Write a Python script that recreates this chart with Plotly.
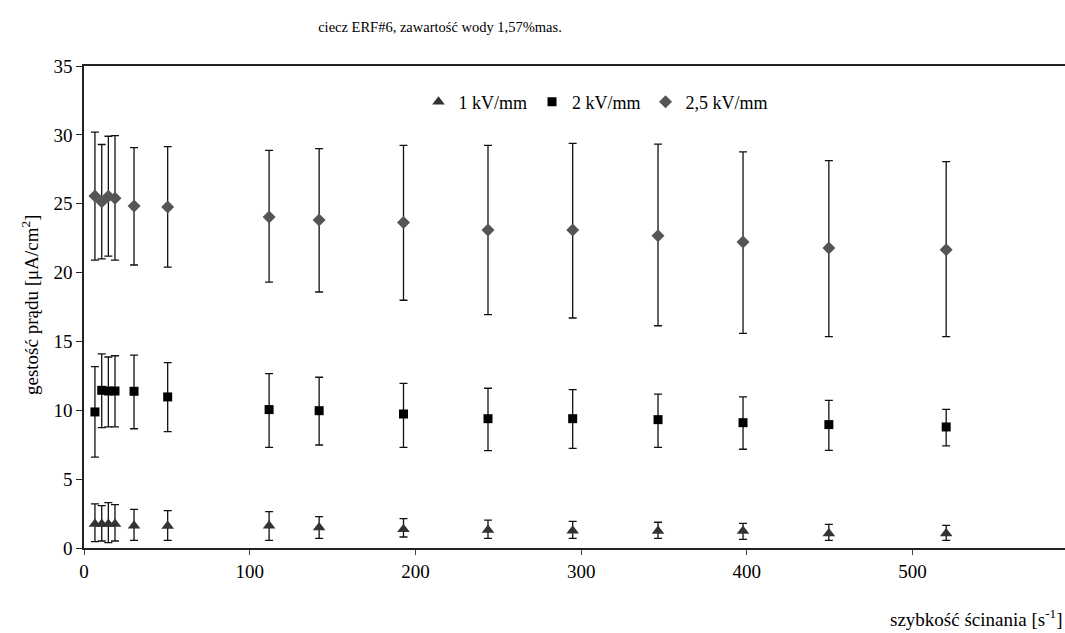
import plotly.graph_objects as go

# shear rate [1/s]
shear_rate = [6.6, 10.7, 14.7, 18.7, 30.2, 50.5, 111.7, 141.9, 192.8, 243.8, 294.9, 346.4, 397.7, 449.5, 520.3]

# 1 kV/mm
e1_y     = [1.74, 1.74, 1.74, 1.74, 1.62, 1.60, 1.62, 1.48, 1.36, 1.31, 1.26, 1.23, 1.23, 1.06, 1.06]
e1_upper = [3.20, 3.07, 3.29, 3.15, 2.80, 2.71, 2.64, 2.28, 2.13, 2.03, 1.94, 1.87, 1.79, 1.72, 1.65]
e1_lower = [0.46, 0.51, 0.39, 0.51, 0.55, 0.55, 0.55, 0.70, 0.80, 0.70, 0.70, 0.70, 0.63, 0.56, 0.56]

# 2 kV/mm
e2_y     = [9.88, 11.45, 11.40, 11.40, 11.38, 10.97, 10.05, 9.97, 9.73, 9.39, 9.39, 9.32, 9.10, 8.96, 8.79]
e2_upper = [13.17, 14.09, 13.87, 13.96, 14.00, 13.46, 12.66, 12.40, 11.96, 11.60, 11.50, 11.18, 10.97, 10.72, 10.07]
e2_lower = [6.60, 8.74, 8.80, 8.80, 8.66, 8.45, 7.31, 7.48, 7.31, 7.07, 7.24, 7.31, 7.17, 7.09, 7.41]

# 2,5 kV/mm
e3_y     = [25.56, 25.15, 25.55, 25.40, 24.84, 24.76, 24.04, 23.82, 23.63, 23.09, 23.09, 22.68, 22.22, 21.79, 21.66]
e3_upper = [30.20, 29.30, 29.90, 29.95, 29.07, 29.15, 28.88, 29.00, 29.24, 29.24, 29.38, 29.33, 28.76, 28.13, 28.06]
e3_lower = [20.90, 21.00, 21.20, 20.90, 20.55, 20.40, 19.30, 18.59, 17.99, 16.94, 16.70, 16.14, 15.59, 15.35, 15.35]

series = [
    ("1 kV/mm", e1_y, e1_upper, e1_lower, "triangle-up", "#333333", 11),
    ("2 kV/mm", e2_y, e2_upper, e2_lower, "square", "#000000", 9),
    ("2,5 kV/mm", e3_y, e3_upper, e3_lower, "diamond", "#555555", 10),
]

FONT = "Liberation Serif, Times New Roman, serif"

fig = go.Figure()
for name, y, up, lo, sym, col, sz in series:
    fig.add_trace(go.Scatter(
        x=shear_rate, y=y, mode="markers", name=name,
        marker=dict(symbol=sym, color=col, size=sz, line=dict(width=0)),
        error_y=dict(type="data", symmetric=False,
                     array=[u - v for u, v in zip(up, y)],
                     arrayminus=[v - l for v, l in zip(y, lo)],
                     color="#111111", thickness=1.3, width=4),
    ))

fig.update_layout(
    width=1065, height=633,
    margin=dict(l=84, r=0, t=66, b=85),
    paper_bgcolor="white", plot_bgcolor="white",
    font=dict(family=FONT, size=19, color="black"),
    showlegend=True,
    legend=dict(orientation="h", x=(596 - 84) / 981, xanchor="center", y=0.925, yanchor="middle",
                font=dict(family=FONT, size=18), itemwidth=30, tracegroupgap=0,
                bgcolor="rgba(0,0,0,0)"),
    title=dict(text="ciecz ERF#6, zawartość wody 1,57%mas.", x=440/1065, xanchor="center",
               y=1 - 27/633, yanchor="middle", font=dict(family=FONT, size=14.5)),
)

fig.update_xaxes(range=[0, 592], tickvals=[0, 100, 200, 300, 400, 500],
                 showgrid=False, zeroline=False, showline=True, linecolor="#222222", linewidth=1.5,
                 mirror=True, ticks="outside", ticklen=5, tickcolor="#444444",
                 tickfont=dict(family=FONT, size=19))
fig.update_yaxes(range=[0, 35], tickvals=[0, 5, 10, 15, 20, 25, 30, 35],
                 showgrid=False, zeroline=False, showline=True, linecolor="#222222", linewidth=1.5,
                 ticks="outside", ticklen=6, tickcolor="#222222",
                 tickfont=dict(family=FONT, size=19))

fig.add_annotation(text="szybkość ścinania [s<sup>-1</sup>]", xref="paper", yref="paper",
                   x=1.0, xanchor="right", y=-(618 - 548) / 482, yanchor="middle",
                   showarrow=False, font=dict(family=FONT, size=19))
fig.add_annotation(text="gestość prądu [μA/cm<sup>2</sup>]", xref="paper", yref="paper",
                   x=-(84 - 30) / 981, xanchor="center", y=(548 - 305) / 482, yanchor="middle",
                   textangle=-90, showarrow=False, font=dict(family=FONT, size=19))

fig.write_html("out.html")
